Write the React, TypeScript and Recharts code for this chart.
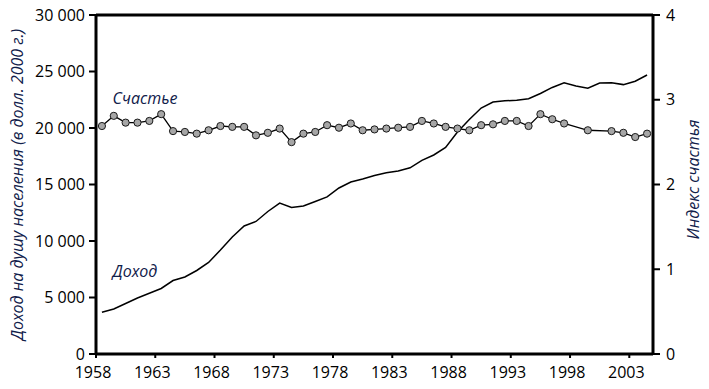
import React from 'react';
import { LineChart, Line, XAxis, YAxis, ReferenceLine, ReferenceDot } from 'recharts';

const YEARS = [1958, 1959, 1960, 1961, 1962, 1963, 1964, 1965, 1966, 1967, 1968, 1969, 1970, 1971, 1972, 1973, 1974, 1975, 1976, 1977, 1978, 1979, 1980, 1981, 1982, 1983, 1984, 1985, 1986, 1987, 1988, 1989, 1990, 1991, 1992, 1993, 1994, 1995, 1996, 1997, 1998, 1999, 2000, 2001, 2002, 2003, 2004];

const INCOME = [3690, 3980, 4470, 4960, 5370, 5800, 6500, 6820, 7390, 8100, 9200, 10350, 11330, 11730, 12610, 13360, 12970, 13100, 13500, 13900, 14690, 15220, 15490, 15800, 16040, 16200, 16480, 17130, 17610, 18280, 19650, 20750, 21770, 22300, 22410, 22450, 22590, 23050, 23590, 24000, 23720, 23520, 23980, 24010, 23840, 24140, 24690];

const HAPPINESS: (number | null)[] = [2.69, 2.81, 2.73, 2.73, 2.75, 2.83, 2.63, 2.62, 2.60, 2.64, 2.69, 2.68, 2.68, 2.58, 2.61, 2.66, 2.50, 2.60, 2.62, 2.70, 2.67, 2.72, 2.64, 2.65, 2.66, 2.67, 2.68, 2.75, 2.72, 2.68, 2.66, 2.64, 2.70, 2.71, 2.75, 2.75, 2.69, 2.83, 2.77, 2.72, null, 2.64, null, 2.63, 2.61, 2.56, 2.60];

const YEAR_TICKS = [1958, 1963, 1968, 1973, 1978, 1983, 1988, 1993, 1998, 2003];
const INCOME_TICKS = [0, 5000, 10000, 15000, 20000, 25000, 30000];
const HAPPY_TICKS = [0, 1, 2, 3, 4];

const LEFT_TITLE = 'Доход на душу населения (в долл. 2000 г.)';
const RIGHT_TITLE = 'Индекс счастья';
const HAPPY_LABEL = 'Счастье';
const INCOME_LABEL = 'Доход';

const data = YEARS.map((year, i) => ({ year, income: INCOME[i], happy: HAPPINESS[i] }));

const FONT = '"Open Sans", sans-serif';
const TITLE_COLOR = '#10204a';

const fmt = (v: number) => String(v).replace(/\B(?=(\d{3})+(?!\d))/g, ' ');

const Marker = (props: any) => {
  const { cx, cy, value } = props;
  if (value == null || cx == null || cy == null) return null;
  return <circle cx={cx} cy={cy} r={3.6} fill="#a6a6a6" stroke="#1a1a1a" strokeWidth={1} />;
};

const textShape = (txt: string) => (p: any) => (
  <text x={p.cx} y={p.cy} fontFamily={FONT} fontSize={16} fontStyle="italic" fill={TITLE_COLOR}>
    {txt}
  </text>
);

const LeftTitle = (props: any) => {
  const vb = props.viewBox || {};
  const cx = 17;
  const cy = vb.y + vb.height / 2;
  return (
    <text x={cx} y={cy} transform={`rotate(-90 ${cx} ${cy})`} textAnchor="middle" dominantBaseline="central"
      fontFamily={FONT} fontSize={16} fontStyle="italic" fill={TITLE_COLOR}>
      {LEFT_TITLE}
    </text>
  );
};

const RightTitle = (props: any) => {
  const vb = props.viewBox || {};
  const cx = 693;
  const cy = vb.y + vb.height / 2 - 5;
  return (
    <text x={cx} y={cy} transform={`rotate(-90 ${cx} ${cy})`} textAnchor="middle" dominantBaseline="central"
      fontFamily={FONT} fontSize={16} fontStyle="italic" fill={TITLE_COLOR}>
      {RIGHT_TITLE}
    </text>
  );
};

export default function App() {
  const tickStyle = { fontFamily: FONT, fontSize: 16, fill: '#000' };
  return (
    <div style={{ position: 'absolute', left: 0, top: 0, width: 709, height: 389, background: '#fff' }}>
      <LineChart width={709} height={389} data={data} margin={{ top: 15, right: 0, bottom: 5, left: 0 }}>
        <XAxis
          xAxisId="x"
          dataKey="year"
          type="number"
          domain={[1957.5, 2004.5]}
          allowDataOverflow
          ticks={YEAR_TICKS.map((y) => y - 0.5)}
          tickFormatter={(v: number) => String(v + 0.5)}
          interval={0}
          height={30}
          tickSize={4}
          tickMargin={9}
          tick={{ ...tickStyle, dx: -3 }}
          axisLine={{ stroke: '#000', strokeWidth: 3 }}
          tickLine={{ stroke: '#000', strokeWidth: 2 }}
        />
        <YAxis
          yAxisId="income"
          orientation="left"
          width={96}
          domain={[0, 30000]}
          ticks={INCOME_TICKS}
          interval={0}
          tickFormatter={fmt}
          tickSize={7}
          tickMargin={4}
          tick={tickStyle}
          axisLine={{ stroke: '#000', strokeWidth: 3 }}
          tickLine={{ stroke: '#000', strokeWidth: 2 }}
          label={{ content: <LeftTitle /> }}
        />
        <YAxis
          yAxisId="happy"
          orientation="right"
          width={56}
          domain={[0, 4]}
          ticks={HAPPY_TICKS}
          interval={0}
          tickSize={7}
          tickMargin={6}
          tick={tickStyle}
          axisLine={{ stroke: '#000', strokeWidth: 3 }}
          tickLine={{ stroke: '#000', strokeWidth: 2 }}
          label={{ content: <RightTitle /> }}
        />
        <ReferenceLine xAxisId="x" yAxisId="income" y={30000} stroke="#000" strokeWidth={3} />
        <Line
          xAxisId="x"
          yAxisId="income"
          dataKey="income"
          stroke="#000"
          strokeWidth={1.5}
          dot={false}
          isAnimationActive={false}
          type="linear"
        />
        <Line
          xAxisId="x"
          yAxisId="happy"
          dataKey="happy"
          stroke="#000"
          strokeWidth={1.3}
          dot={<Marker />}
          activeDot={false}
          connectNulls
          isAnimationActive={false}
          type="linear"
        />
        <ReferenceDot xAxisId="x" yAxisId="income" x={1958.9} y={22150} r={0} shape={textShape(HAPPY_LABEL)} />
        <ReferenceDot xAxisId="x" yAxisId="income" x={1958.9} y={6800} r={0} shape={textShape(INCOME_LABEL)} />
      </LineChart>
    </div>
  );
}
